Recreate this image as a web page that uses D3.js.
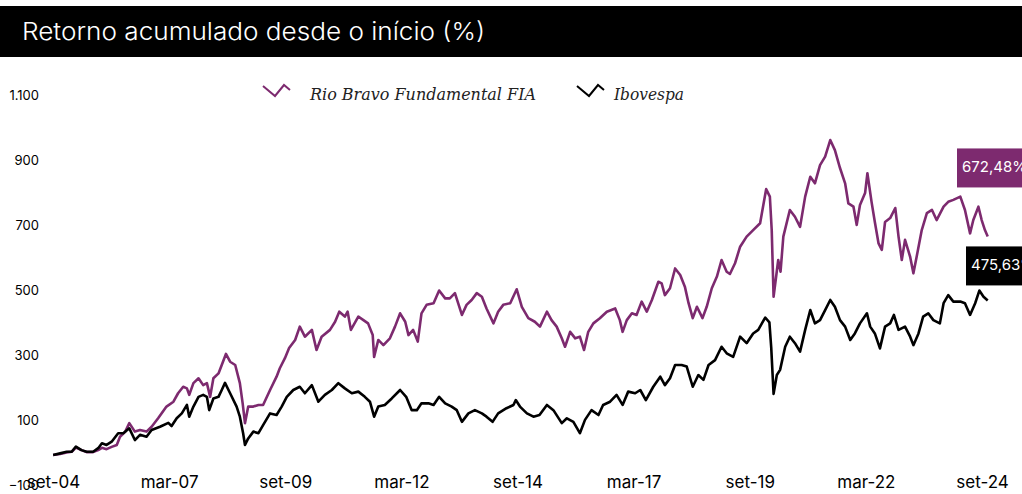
<!DOCTYPE html>
<html><head><meta charset="utf-8">
<script src="https://cdn.jsdelivr.net/npm/d3@7"></script>
<style>
html,body{margin:0;padding:0;background:#fff;overflow:hidden}
svg{display:block}
</style></head>
<body>
<svg id="chart" width="1022" height="494"></svg>
<script>
const title = "Retorno acumulado desde o início (%)";
const seriesNames = ["Rio Bravo Fundamental FIA", "Ibovespa"];
const seriesColors = ["#7d2a6f", "#000000"];
const endLabels = ["672,48%", "475,63%"];
const yTicks = [-100, 100, 300, 500, 700, 900, 1100];
const xTickLabels = ["set-04","mar-07","set-09","mar-12","set-14","mar-17","set-19","mar-22","set-24"];
const xTickTimes = [2004.667,2007.167,2009.667,2012.167,2014.667,2017.167,2019.667,2022.167,2024.667];

// Rio Bravo Fundamental FIA (time in decimal years, cumulative return %)
const fundT = [2004.67,2004.82,2004.96,2005.07,2005.16,2005.28,2005.39,2005.53,2005.64,2005.72,
2005.82,2005.93,2006.04,2006.11,2006.22,2006.31,2006.43,2006.54,2006.68,2006.79,
2006.93,2007.11,2007.26,2007.36,2007.47,2007.55,2007.60,2007.69,2007.80,2007.90,
2007.98,2008.05,2008.12,2008.23,2008.30,2008.39,2008.48,2008.59,2008.69,2008.75,
2008.80,2008.87,2008.98,2009.09,2009.19,2009.34,2009.48,2009.55,2009.66,2009.75,
2009.88,2009.98,2010.09,2010.24,2010.34,2010.45,2010.63,2010.74,2010.83,2010.95,
2011.01,2011.08,2011.24,2011.35,2011.45,2011.55,2011.58,2011.67,2011.78,2011.92,
2012.03,2012.14,2012.25,2012.32,2012.42,2012.52,2012.60,2012.71,2012.86,2012.98,
2013.11,2013.21,2013.32,2013.47,2013.57,2013.68,2013.79,2013.90,2014.00,2014.15,
2014.25,2014.36,2014.51,2014.65,2014.76,2014.90,2015.04,2015.15,2015.30,2015.40,
2015.51,2015.62,2015.69,2015.80,2015.91,2016.01,2016.10,2016.19,2016.30,2016.44,
2016.59,2016.77,2016.87,2016.93,2017.02,2017.13,2017.23,2017.34,2017.45,2017.56,
2017.70,2017.77,2017.84,2017.95,2018.06,2018.17,2018.27,2018.35,2018.44,2018.53,
2018.65,2018.74,2018.85,2018.96,2019.06,2019.17,2019.24,2019.35,2019.46,2019.60,
2019.74,2019.89,2020.02,2020.10,2020.14,2020.18,2020.28,2020.33,2020.39,2020.53,
2020.64,2020.75,2020.86,2020.97,2021.07,2021.18,2021.29,2021.40,2021.50,2021.61,
2021.72,2021.79,2021.90,2021.97,2022.04,2022.15,2022.20,2022.29,2022.36,2022.44,
2022.51,2022.58,2022.69,2022.80,2022.87,2022.94,2023.01,2023.12,2023.19,2023.26,
2023.37,2023.48,2023.59,2023.69,2023.84,2023.94,2024.05,2024.20,2024.30,2024.41,
2024.48,2024.59,2024.66,2024.73,2024.79];
const fundV = [0,3,8,10,23,15,9,9,15,22,
18,25,31,56,71,98,72,77,72,87,
113,149,164,190,210,205,185,221,236,215,
221,179,236,251,277,311,287,277,221,159,
98,149,149,154,154,200,241,267,298,329,
354,395,364,385,323,364,385,410,441,426,
441,385,426,415,405,369,302,354,338,359,
395,436,410,369,385,349,436,462,467,506,
482,482,498,431,462,477,498,487,451,405,
441,462,467,510,456,421,410,395,441,415,
395,359,333,379,359,364,323,379,405,421,
441,451,415,379,415,436,431,472,441,477,
533,528,492,513,574,554,518,467,421,456,
421,456,513,549,600,564,557,590,641,672,
692,713,818,795,692,487,600,564,672,754,
733,702,795,856,836,892,918,969,938,883,
836,774,764,708,769,806,867,778,717,651,
631,717,729,760,672,600,662,610,559,610,
692,744,754,723,764,779,785,795,754,682,
723,764,723,692,672.48];

// Ibovespa
const iboT = [2004.67,2004.82,2004.96,2005.07,2005.16,2005.28,2005.39,2005.53,2005.64,2005.72,
2005.82,2005.93,2006.07,2006.18,2006.31,2006.43,2006.54,2006.68,2006.79,2006.97,
2007.15,2007.22,2007.33,2007.44,2007.55,2007.60,2007.69,2007.80,2007.90,2007.98,
2008.03,2008.12,2008.23,2008.30,2008.37,2008.48,2008.62,2008.69,2008.76,2008.80,
2008.87,2008.98,2009.09,2009.19,2009.34,2009.48,2009.59,2009.70,2009.84,2009.98,
2010.09,2010.24,2010.38,2010.52,2010.67,2010.81,2010.95,2011.10,2011.24,2011.38,
2011.49,2011.58,2011.67,2011.81,2011.96,2012.14,2012.27,2012.39,2012.50,2012.60,
2012.75,2012.86,2012.98,2013.11,2013.25,2013.36,2013.47,2013.61,2013.75,2013.90,
2014.00,2014.13,2014.25,2014.43,2014.58,2014.63,2014.72,2014.87,2015.01,2015.14,
2015.30,2015.44,2015.62,2015.73,2015.87,2016.01,2016.12,2016.26,2016.41,2016.51,
2016.66,2016.80,2016.93,2017.05,2017.20,2017.31,2017.43,2017.59,2017.74,2017.84,
2017.95,2018.06,2018.20,2018.31,2018.44,2018.56,2018.67,2018.78,2018.92,2019.06,
2019.17,2019.31,2019.46,2019.60,2019.74,2019.85,2020.00,2020.09,2020.13,2020.18,
2020.25,2020.32,2020.43,2020.53,2020.64,2020.75,2020.86,2020.97,2021.07,2021.18,
2021.29,2021.40,2021.50,2021.61,2021.72,2021.83,2021.93,2022.04,2022.19,2022.26,
2022.36,2022.47,2022.58,2022.69,2022.77,2022.87,2023.01,2023.12,2023.19,2023.30,
2023.40,2023.51,2023.62,2023.76,2023.84,2023.94,2024.05,2024.20,2024.30,2024.41,
2024.52,2024.61,2024.70,2024.79];
const iboV = [0,5,10,10,26,15,10,10,21,36,
31,41,67,67,82,46,62,56,77,87,
99,89,113,128,154,118,149,179,185,179,
138,174,179,200,222,190,149,118,67,31,
51,72,67,92,128,123,149,179,200,210,
190,215,164,185,200,221,205,190,195,179,
164,118,149,154,174,200,179,138,138,159,
159,154,179,159,149,138,102,128,138,128,
118,102,128,144,154,169,149,128,118,123,
154,138,98,113,102,67,108,138,123,154,
164,185,154,195,190,200,169,210,241,215,
236,277,277,272,210,246,231,277,292,333,
313,302,364,344,374,385,423,408,329,188,
246,262,333,364,344,318,385,446,405,415,
446,477,456,415,395,354,374,405,436,395,
374,328,395,405,431,385,395,364,338,374,
426,436,415,405,467,492,472,472,467,431,
467,506,487,475.63];

const svg = d3.select("#chart");
const W = 1022, H = 494;

const x = d3.scaleLinear().domain([2004.667, 2024.667]).range([53, 982]);
const y = d3.scaleLinear().domain([-100, 1100]).range([487.5, 97.5]);

const ptBR = d3.formatLocale({decimal: ",", thousands: ".", grouping: [3], currency: ["R$", ""]});
const fmt = ptBR.format(",d");

// Title bar
svg.append("rect").attr("x", 0).attr("y", 6).attr("width", W).attr("height", 51).attr("fill", "#000");
svg.append("text").attr("x", 22).attr("y", 40)
  .attr("fill", "#fff").attr("font-family", "Inter, 'Noto Sans', sans-serif")
  .attr("font-weight", 300).attr("font-size", 24)
  .attr("textLength", 463).attr("lengthAdjust", "spacingAndGlyphs")
  .text(title);

// Y axis
const yAxis = d3.axisLeft(y).tickValues(yTicks).tickSize(0).tickPadding(0).tickFormat(d => fmt(d));
const gy = svg.append("g").attr("transform", "translate(39,-2)").call(yAxis);
gy.select(".domain").remove();
gy.selectAll("text").attr("font-family", "Inter, 'Noto Sans', sans-serif").attr("font-size", 13).attr("fill", "#000");

// X axis
const xAxis = d3.axisBottom(x).tickValues(xTickTimes).tickSize(0).tickPadding(4)
  .tickFormat((d, i) => xTickLabels[i]);
const gx = svg.append("g").attr("transform", "translate(0,472)").call(xAxis);
gx.select(".domain").remove();
gx.selectAll("text").attr("font-family", "Inter, 'Noto Sans', sans-serif").attr("font-size", 17).attr("fill", "#000");

// Lines
const line = d3.line().x(d => x(d[0])).y(d => y(d[1])).curve(d3.curveLinear);
const fundData = fundT.map((t, i) => [t, fundV[i]]);
const iboData = iboT.map((t, i) => [t, iboV[i]]);

svg.append("path").datum(fundData).attr("d", line)
  .attr("fill", "none").attr("stroke", seriesColors[0]).attr("stroke-width", 2.6).attr("stroke-linejoin", "round");
svg.append("path").datum(iboData).attr("d", line)
  .attr("fill", "none").attr("stroke", seriesColors[1]).attr("stroke-width", 2.6).attr("stroke-linejoin", "round");

// Legend
const legendItems = [
  {name: seriesNames[0], color: seriesColors[0], mx: 263, tx: 310, tw: 226},
  {name: seriesNames[1], color: seriesColors[1], mx: 577, tx: 614, tw: 70}
];
legendItems.forEach(it => {
  const m = [[0, 0], [12, 10], [21, -1], [27, 4]];
  svg.append("path")
    .attr("d", d3.line()(m.map(p => [it.mx + p[0], 86 + p[1]])))
    .attr("fill", "none").attr("stroke", it.color).attr("stroke-width", 2);
  svg.append("text").attr("x", it.tx).attr("y", 100)
    .attr("font-family", "'DejaVu Serif', serif").attr("font-style", "italic")
    .attr("font-size", 16).attr("fill", "#222")
    .attr("textLength", it.tw).attr("lengthAdjust", "spacingAndGlyphs")
    .text(it.name);
});

// End labels
const lastF = fundData[fundData.length - 1], lastI = iboData[iboData.length - 1];
const boxes = [
  {v: lastF[1], dy: -88, x0: 957, color: seriesColors[0], text: endLabels[0]},
  {v: lastI[1], dy: -54, x0: 966, color: seriesColors[1], text: endLabels[1]}
];
boxes.forEach(b => {
  const top = y(b.v) + b.dy;
  svg.append("rect").attr("x", b.x0).attr("y", top).attr("width", 80).attr("height", 39).attr("fill", b.color);
  svg.append("text").attr("x", b.x0 + 5).attr("y", top + 24)
    .attr("font-family", "Inter, 'Noto Sans', sans-serif").attr("font-size", 15)
    .attr("fill", "#fff").text(b.text);
});
</script>
</body></html>
